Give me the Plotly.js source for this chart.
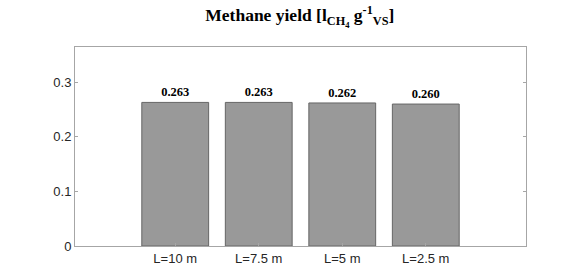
<!DOCTYPE html>
<html>
<head>
<meta charset="utf-8">
<script src="https://cdn.plot.ly/plotly-3.0.1.min.js"></script>
<style>html,body{margin:0;padding:0;background:#fff;}#chart{width:581px;height:276px;}</style>
</head>
<body>
<div id="chart"></div>
<script>
var categories = ["L=10 m", "L=7.5 m", "L=5 m", "L=2.5 m"];
var yieldValues = [0.263, 0.263, 0.262, 0.260];
var valueLabels = ["0.263", "0.263", "0.262", "0.260"];
var yTickVals = [0, 0.1, 0.2, 0.3];
var yTickText = ["0", "0.1", "0.2", "0.3"];

var trace = {
  type: "bar",
  x: categories,
  y: yieldValues,
  width: 0.8,
  text: valueLabels,
  textposition: "outside",
  cliponaxis: false,
  textfont: {family: "Liberation Serif", size: 12.5, color: "#000"},
  texttemplate: "<b>%{text}</b>",
  marker: {color: "#999999", line: {color: "#666666", width: 1}},
  hoverinfo: "none"
};

var layout = {
  width: 581, height: 276,
  margin: {l: 75, r: 55, t: 47, b: 30},
  paper_bgcolor: "#fff", plot_bgcolor: "#fff",
  showlegend: false,
  title: {
    text: "<b>Methane yield [l<sub>CH<sub>4</sub></sub> g<sup>-1</sup><sub>VS</sub>]</b>",
    font: {family: "Liberation Serif", size: 17.5, color: "#000"},
    x: 0.516, xanchor: "center", y: 0.945, yanchor: "middle"
  },
  xaxis: {
    type: "category",
    range: [-1.2, 4.2],
    showline: true, linecolor: "#a6a6a6", linewidth: 1, mirror: true,
    ticks: "inside", ticklen: 3, tickcolor: "#a6a6a6",
    tickfont: {family: "Liberation Sans", size: 13, color: "#262626"},
    showgrid: false, zeroline: false, fixedrange: true
  },
  yaxis: {
    range: [0, 0.3645],
    tickvals: yTickVals, ticktext: yTickText,
    showline: true, linecolor: "#a6a6a6", linewidth: 1, mirror: "ticks",
    ticks: "inside", ticklen: 3, tickcolor: "#a6a6a6",
    tickfont: {family: "Liberation Sans", size: 13, color: "#262626"},
    showgrid: false, zeroline: false, fixedrange: true
  }
};

Plotly.newPlot("chart", [trace], layout, {displayModeBar: false, staticPlot: true});
</script>
</body>
</html>
